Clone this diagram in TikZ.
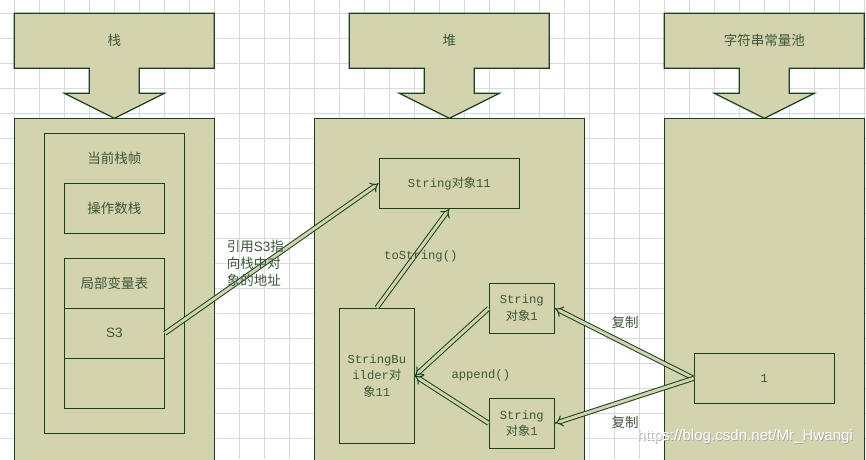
\documentclass[tikz,border=0pt]{standalone}
\usepackage{fontspec}
\setmainfont{Noto Sans CJK SC}
\newfontfamily\monof{Liberation Mono}
\newfontfamily\wsans{Liberation Sans}
\usetikzlibrary{arrows.meta}
\definecolor{fillc}{RGB}{211,211,173}
\definecolor{linec}{RGB}{22,66,32}
\definecolor{textc}{RGB}{58,88,58}
\definecolor{gridc}{RGB}{218,218,218}
\begin{document}
\begin{tikzpicture}[x=1pt,y=-1pt,
 box/.style={draw=linec, fill=fillc, line width=1.2pt, inner sep=0pt},
 lbl/.style={text=textc, font=\fontsize{13.5}{17}\selectfont, inner sep=0pt},
 mlbl/.style={text=textc, font=\fontsize{12.2}{16.5}\selectfont, inner sep=0pt, align=center},
 dbl/.style={draw=linec, line width=1pt, double=fillc, double distance=3pt, -{Implies}},
 hdr/.style={draw=linec, fill=fillc, line width=1.2pt, line join=miter},
]
\useasboundingbox (0,0) rectangle (866,459);
\clip (0,0) rectangle (866,459);
\fill[white] (0,0) rectangle (866,459);
\foreach \i in {0,...,34} \draw[gridc, line width=0.8pt] (14.3+25*\i,0) -- ++(0,459);
\foreach \i in {0,...,18} \draw[gridc, line width=0.8pt] (0,13.3+25*\i) -- ++(866,0);

% main columns
\draw[box] (14.3,118.3) rectangle (214.3,470);
\draw[box] (314.3,118.3) rectangle (584.3,470);
\draw[box] (664.3,118.3) rectangle (864.3,470);

% headers
\foreach \cx/\nm/\txt in {114.3/hstack/栈, 449.3/hheap/堆, 764.3/hpool/字符串常量池}{
  \draw[hdr] (\cx-100,13.3) -- (\cx+100,13.3) -- (\cx+100,68.3) -- (\cx+25,68.3) -- (\cx+25,93.3) -- (\cx+50,93.3) -- (\cx,118.3) -- (\cx-50,93.3) -- (\cx-25,93.3) -- (\cx-25,68.3) -- (\cx-100,68.3) -- cycle;
  \node[lbl] (\nm) at (\cx,40.8) {\txt};
}

% stack
\node[box, minimum width=140, minimum height=300] (frame) at (114.3,283.3) {};
\node[lbl] (framelbl) at (114.3,158) {当前栈帧};
\node[box, lbl, minimum width=100, minimum height=50] (ops) at (114.3,208.3) {操作数栈};
\node[box, lbl, minimum width=100, minimum height=50] (loc) at (114.3,283.3) {局部变量表};
\node[box, lbl, minimum width=100, minimum height=50] (s3) at (114.3,333.3) {\wsans S3};
\node[box, minimum width=100, minimum height=50] (emp) at (114.3,383.3) {};

% heap
\node[box, mlbl, minimum width=140, minimum height=50] (str11) at (449.3,183.3) {{\monof String}对象{\monof 11}};
\node[box, mlbl, minimum width=75, minimum height=135] (sb) at (376.8,375.8) {{\monof StringBu}\\{\monof ilder}对\\象{\monof 11}};
\node[box, mlbl, minimum width=65, minimum height=50] (s1a) at (521.8,308.3) {{\monof String}\\对象{\monof 1}};
\node[box, mlbl, minimum width=65, minimum height=50] (s1b) at (521.8,423.3) {{\monof String}\\对象{\monof 1}};

% pool
\node[box, mlbl, minimum width=140, minimum height=50] (one) at (764.3,378.3) {\monof 1};

% connectors
\draw[dbl] (s3.east) -- (str11.west);
\draw[dbl] (sb.north) -- (str11.south);
\draw[dbl] (s1a.west) -- (sb.east);
\draw[dbl] (s1b.west) -- (sb.east);
\draw[dbl] (one.west) -- (s1a.east);
\draw[dbl] (one.west) -- (s1b.east);

% labels
\node[lbl, align=left, anchor=west] (ref) at (226.7,263) {引用{\wsans S3}指\\向栈中对\\象的地址};
\node[mlbl] (tostr) at (420.8,256) {\monof toString()};
\node[mlbl] (app) at (480.8,375.7) {\monof append()};
\node[lbl] (cp1) at (625,322.3) {复制};
\node[lbl] (cp2) at (625,422.7) {复制};

% watermark
\node[text=gray!70, font=\wsans\fontsize{15.1}{15.1}\selectfont, anchor=west, inner sep=0pt] (wms) at (637.8,438) {https://blog.csdn.net/Mr\_Hwangi};
\node[text=white, font=\wsans\fontsize{15.1}{15.1}\selectfont, anchor=west, inner sep=0pt] (wm) at (637,437) {https://blog.csdn.net/Mr\_Hwangi};
\end{tikzpicture}
\end{document}
